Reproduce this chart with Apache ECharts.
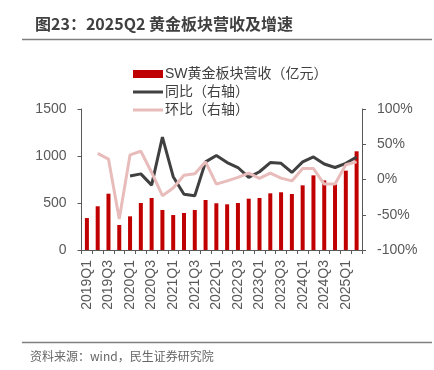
<!DOCTYPE html>
<html>
<head>
<meta charset="utf-8">
<script src="https://cdn.jsdelivr.net/npm/echarts@6/dist/echarts.min.js"></script>
<style>
html,body{margin:0;padding:0;background:#fff;}
#c{width:434px;height:370px;}
</style>
</head>
<body>
<div id="c"></div>
<script>
var categories = ['2019Q1','2019Q2','2019Q3','2019Q4','2020Q1','2020Q2','2020Q3','2020Q4','2021Q1','2021Q2','2021Q3','2021Q4','2022Q1','2022Q2','2022Q3','2022Q4','2023Q1','2023Q2','2023Q3','2023Q4','2024Q1','2024Q2','2024Q3','2024Q4','2025Q1','2025Q2'];
var revenue = [340,465,599,266,358,500,553,426,372,394,426,532,497,486,500,546,553,603,614,596,688,794,740,697,844,1050];
var yoy = [null,null,null,null,5,8,-8,60,4,-21,-23,25,34,24,17,3,11,24,23,10,25,32,22,17,23,32];
var qoq = [null,37,29,-56,35,40,10,-23,-12,6,8,25,-6.5,-2,3,9,1.5,9,2,-2,15.5,15.5,-6.5,-6.5,21,25];
var leftTicks = [0, 500, 1000, 1500];
var rightTicks = [-100, -50, 0, 50, 100];

var font = '"Liberation Sans", "Noto Sans CJK SC", sans-serif';
var lineIcon = 'path://M0,0M30,8M0,2.5H30V5.5H0Z';
var chart = echarts.init(document.getElementById('c'), null, {renderer: 'canvas'});
chart.setOption({
  animation: false,
  backgroundColor: '#ffffff',
  textStyle: {fontFamily: font},
  title: {
    text: '图23：2025Q2 黄金板块营收及增速',
    left: 30, top: 11,
    textStyle: {fontSize: 16, fontWeight: 'bold', color: '#404040', fontFamily: '"Noto Sans CJK SC", sans-serif'}
  },
  graphic: [
    {type: 'line', shape: {x1: 22, y1: 39.5, x2: 432, y2: 39.5}, style: {stroke: '#7f7f7f', lineWidth: 1.5}},
    {type: 'line', shape: {x1: 22, y1: 342.5, x2: 432, y2: 342.5}, style: {stroke: '#7f7f7f', lineWidth: 1.5}},
    {type: 'text', left: 30, top: 350, style: {text: '资料来源：wind，民生证券研究院', fill: '#666666', font: '12px "Noto Sans CJK SC", sans-serif'}}
  ],
  legend: {
    orient: 'vertical',
    left: 128, top: 62,
    itemWidth: 30, itemHeight: 8, itemGap: 4,
    textStyle: {fontSize: 14, color: '#404040', fontFamily: font, padding: [0,0,0,-3]},
    data: [
      {name: 'SW黄金板块营收（亿元）', icon: 'rect'},
      {name: '同比（右轴）', icon: lineIcon},
      {name: '环比（右轴）', icon: lineIcon}
    ]
  },
  grid: {left: 81.5, right: 72, top: 109, bottom: 120, containLabel: false},
  xAxis: {
    type: 'category',
    data: categories,
    boundaryGap: true,
    axisLine: {lineStyle: {color: '#595959', width: 1}},
    axisTick: {show: true, interval: 0, length: 4, lineStyle: {color: '#595959'}},
    axisLabel: {interval: 1, rotate: 90, fontSize: 14, color: '#595959', margin: 10, fontFamily: font},
    splitLine: {show: false}
  },
  yAxis: [
    {
      type: 'value', min: leftTicks[0], max: leftTicks[leftTicks.length-1], interval: 500,
      axisLine: {show: true, lineStyle: {color: '#595959'}},
      axisTick: {show: true, length: 4, lineStyle: {color: '#595959'}},
      axisLabel: {fontSize: 14, color: '#595959', margin: 15, fontFamily: font, formatter: function(v){return String(v);}},
      splitLine: {show: false}
    },
    {
      type: 'value', min: rightTicks[0], max: rightTicks[rightTicks.length-1], interval: 50,
      position: 'right',
      axisLine: {show: true, lineStyle: {color: '#595959'}},
      axisTick: {show: true, length: 4, lineStyle: {color: '#595959'}},
      axisLabel: {fontSize: 14, color: '#595959', margin: 15, fontFamily: font, formatter: function(v){return v + '%';}},
      splitLine: {show: false}
    }
  ],
  series: [
    {
      name: 'SW黄金板块营收（亿元）', type: 'bar', yAxisIndex: 0,
      data: revenue, barWidth: 4,
      itemStyle: {color: '#c00000'}
    },
    {
      name: '同比（右轴）', type: 'line', yAxisIndex: 1,
      data: yoy, symbol: 'none', connectNulls: false,
      lineStyle: {color: '#404040', width: 3},
      itemStyle: {color: '#404040'}
    },
    {
      name: '环比（右轴）', type: 'line', yAxisIndex: 1,
      data: qoq, symbol: 'none',
      lineStyle: {color: '#e8bcbb', width: 3},
      itemStyle: {color: '#e8bcbb'}
    }
  ]
});
</script>
</body>
</html>
